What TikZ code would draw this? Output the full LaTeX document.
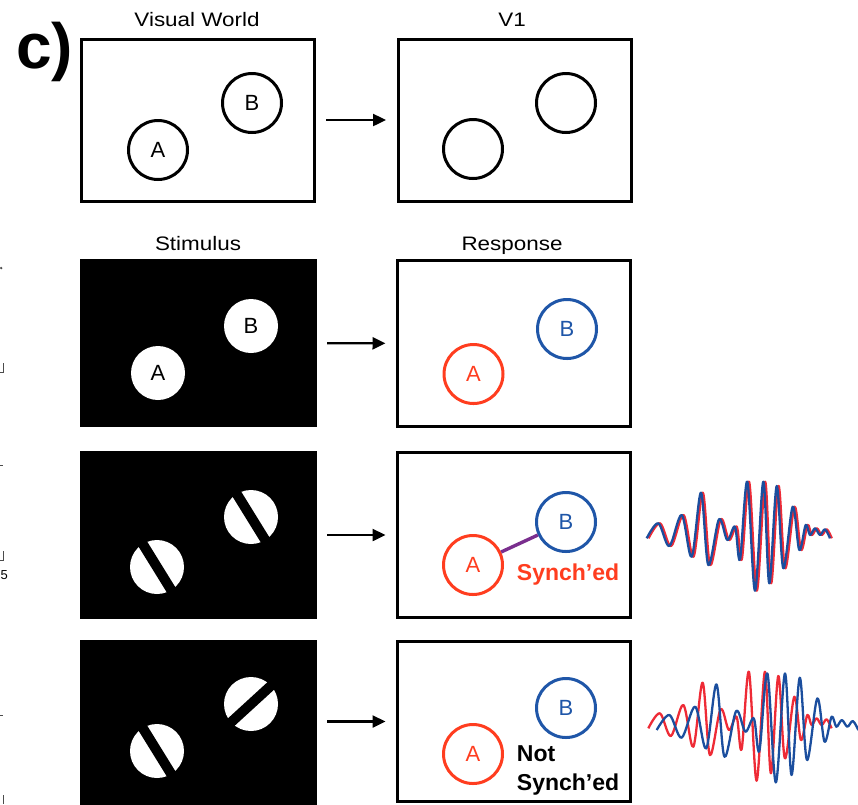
\documentclass[tikz,border=0pt]{standalone}
\usepackage{fontspec}
\setmainfont{Liberation Sans}
\newfontfamily\titlefont[FakeStretch=1.15]{Liberation Sans}
\usetikzlibrary{arrows.meta,calc}

\definecolor{respred}{HTML}{FF3D1F}
\definecolor{respblue}{HTML}{1F56A8}
\definecolor{linkpurple}{HTML}{7A2E8E}
\definecolor{wavered}{HTML}{EE2B36}
\definecolor{waveblue}{HTML}{1B4E9E}

\tikzset{
  frame/.style={draw, line width=3, minimum width=233, minimum height=162, inner sep=0},
  blackbox/.style={fill=black, minimum width=237, minimum height=168, inner sep=0},
  title/.style={anchor=base, font=\titlefont\fontsize{19.5}{19.5}\selectfont},
  ring/.style={circle, draw, line width=3, minimum size=59, inner sep=0,
               font=\fontsize{22}{22}\selectfont},
  disc/.style={circle, fill=white, minimum size=54, inner sep=0,
               font=\fontsize{22}{22}\selectfont},
  bar/.style={line width=10, black},
  flow/.style={line width=2.4, -{Triangle[length=13pt,width=12pt]},
               shorten <=10pt, shorten >=10.5pt},
  verdict/.style={anchor=base west, inner sep=0,
                  font=\bfseries\fontsize{23}{23}\selectfont},
  wave/.pic={\draw[line width=2.3, line join=round]
    plot[smooth, tension=0.55] coordinates {
      (0,0) (11.6,-15) (22.6,7.7) (35,-23.3) (45,18.4) (54.3,-45.6)
      (61.6,26.7) (72.3,-19) (80.6,1.7) (88.3,-11.6) (93.3,21)
      (100.6,-56.6) (108.3,52.4) (116.6,-56.6) (122.6,45) (130,-52.3)
      (136.6,30) (146,-31.6) (152.6,11.7) (159,-13.3) (163.3,-3.3)
      (168.3,-10) (173.3,-3.3) (178.3,-9) (183.3,0)};}
}

\begin{document}
\begin{tikzpicture}[x=1pt, y=-1pt]
\useasboundingbox (0,0) rectangle (858,804);
\clip (0,0) rectangle (858,804);

% panel label
\node[anchor=base west, inner sep=0, font=\bfseries\fontsize{64}{64}\selectfont] (lbl) at (16,68) {c)};

% fragments of the neighbouring panel along the left edge
\begin{scope}[line width=0.8, black!70]
  \fill (1.2,268) circle (1.3);
  \draw (3,363) -- (3,372) -- (0,372);
  \draw (0,465) -- (3,465);
  \draw (3,551) -- (3,560) -- (0,560);
  \draw (0,715) -- (3,715);
  \draw (3,795) -- (3,804);
\end{scope}
\node[anchor=base west, inner sep=0, font=\fontsize{13}{13}\selectfont] (frag) at (0.5,579) {5};

% ---- row 1: visual world -> V1
\node[frame] (vw) at (198,120) {};
\node[frame] (v1) at (514.5,120) {};
\node[title] (tvw) at (197,26.7) {Visual World};
\node[title] (tv1) at (512,26.7) {V1};
\node[ring] (a1) at (158,150) {A};
\node[ring] (b1) at (252,103) {B};
\node[ring] (a1r) at (473,149) {};
\node[ring] (b1r) at (566,103) {};
\draw[flow] (vw) -- (v1);

% ---- row 2: stimulus -> response
\node[blackbox] (s2) at (198.5,343) {};
\node[frame, minimum height=166] (r2) at (514,343.5) {};
\node[title] (ts2) at (198,250) {Stimulus};
\node[title] (tr2) at (512,250) {Response};
\node[disc] (a2) at (158,373) {A};
\node[disc] (b2) at (251,326) {B};
\node[ring, respred] (a2r) at (473.5,374) {A};
\node[ring, respblue] (b2r) at (567,329) {B};
\draw[flow] (s2) -- (r2);

% ---- row 3: aligned gratings, synchronised
\node[blackbox] (s3) at (198.5,535) {};
\node[frame, minimum height=165] (r3) at (514,535) {};
\node[disc] (a3) at (157,567) {};
\node[disc] (b3) at (251,517) {};
\draw[bar] ($(a3)+(-21,-34)$) -- ($(a3)+(21,34)$);
\draw[bar] ($(b3)+(-21,-34)$) -- ($(b3)+(21,34)$);
\node[ring, respred] (a3r) at (473,565) {A};
\node[ring, respblue] (b3r) at (566,522) {B};
\draw[linkpurple, line width=3.4] (a3r) -- (b3r);
\node[verdict, text=respred] (sy3) at (516.7,580) {Synch’ed};
\draw[flow] (s3) -- (r3);
\pic[color=wavered] at (648.5,538.3) {wave};
\pic[color=waveblue] at (646.7,538.3) {wave};

% ---- row 4: crossed gratings, not synchronised
\node[blackbox, minimum height=170] (s4) at (198.5,725) {};
\node[frame, minimum height=160] (r4) at (514,721.5) {};
\node[disc] (a4) at (157,751) {};
\node[disc] (b4) at (251,704) {};
\draw[bar] ($(a4)+(-21,-34)$) -- ($(a4)+(21,34)$);
\draw[bar] ($(b4)+(-29.5,27)$) -- ($(b4)+(29.5,-27)$);
\node[ring, respred] (a4r) at (473,754) {A};
\node[ring, respblue] (b4r) at (566,708) {B};
\node[verdict] (no4) at (516.7,761.7) {Not};
\node[verdict] (sy4) at (516.7,790) {Synch’ed};
\draw[flow] (s4.east |- r4.west) -- (r4);
\pic[color=wavered] at (648.3,728.3) {wave};
\pic[color=waveblue, xscale=1.1] at (656.7,730) {wave};
\end{tikzpicture}
\end{document}
